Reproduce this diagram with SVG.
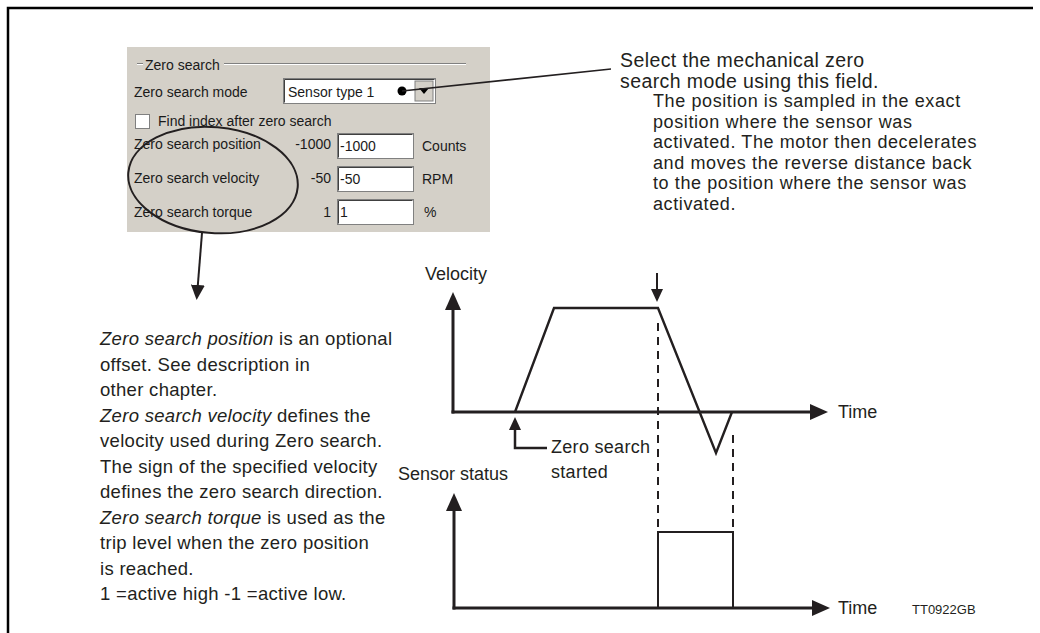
<svg xmlns="http://www.w3.org/2000/svg" width="1040" height="633" viewBox="0 0 1040 633">
<style>
.t{font-family:"Liberation Sans",Arial,sans-serif;fill:#231f20}
.g{font-family:"Liberation Sans",Arial,sans-serif;font-size:14px;fill:#1a1a1a}
.ln{stroke:#231f20;fill:none}
.dash{stroke:#231f20;stroke-width:2;stroke-dasharray:8 6;fill:none}
.sunk{fill:#fff;stroke:#808080;stroke-width:1}
</style>
<defs>
<marker id="big" viewBox="0 0 18 16" refX="4" refY="8" markerWidth="18" markerHeight="16" markerUnits="userSpaceOnUse" orient="auto"><path d="M0,0 L18,8 L0,16 Z" fill="#231f20"/></marker>
<marker id="sm" viewBox="0 0 13 12" refX="3" refY="6" markerWidth="13" markerHeight="12" markerUnits="userSpaceOnUse" orient="auto"><path d="M0,0 L13,6 L0,12 Z" fill="#231f20"/></marker>
<marker id="md" viewBox="0 0 15 14" refX="3" refY="7" markerWidth="15" markerHeight="14" markerUnits="userSpaceOnUse" orient="auto"><path d="M0,0 L15,7 L0,14 Z" fill="#231f20"/></marker>
</defs>
<rect width="1040" height="633" fill="#fff"/>
<!-- frame -->
<path d="M8,633 V8 H1033" stroke="#000" stroke-width="2.5" fill="none"/>

<!-- GUI panel -->
<g id="panel">
<rect x="127" y="47" width="363" height="185" fill="#d4d0c8"/>
<path d="M137,63.5 H143 M224,63.5 H466" stroke="#808080" stroke-width="1"/>
<path d="M137,64.5 H143 M224,64.5 H466" stroke="#fff" stroke-width="1"/>
<text class="g" x="145" y="70">Zero search</text>
<text class="g" x="134" y="97">Zero search mode</text>
<rect x="283.5" y="78.5" width="152" height="25" fill="#fff" stroke="#808080"/>
<path d="M284.5,102.5 V79.5 H434.5" stroke="#404040" fill="none"/>
<rect x="415" y="81" width="18" height="20" fill="#d4d0c8" stroke="#808080"/>
<path d="M419,88 L429,88 L424,94 Z" fill="#000"/>
<text class="g" x="288" y="97">Sensor type 1</text>
<rect x="135.5" y="114.5" width="14" height="14" class="sunk"/>
<text class="g" x="158" y="126">Find index after zero search</text>
<text class="g" x="134" y="149">Zero search position</text>
<text class="g" x="331" y="149" text-anchor="end">-1000</text>
<rect x="337.5" y="133.5" width="76" height="25" class="sunk"/>
<path d="M338.5,157.5 V134.5 H412.5" stroke="#404040" fill="none"/>
<text class="g" x="340" y="151">-1000</text>
<text class="g" x="422" y="151">Counts</text>
<text class="g" x="134" y="183">Zero search velocity</text>
<text class="g" x="331" y="183" text-anchor="end">-50</text>
<rect x="337.5" y="166.5" width="76" height="25" class="sunk"/>
<path d="M338.5,190.5 V167.5 H412.5" stroke="#404040" fill="none"/>
<text class="g" x="340" y="184">-50</text>
<text class="g" x="422" y="184">RPM</text>
<text class="g" x="134" y="217">Zero search torque</text>
<text class="g" x="331" y="217" text-anchor="end">1</text>
<rect x="337.5" y="199.5" width="76" height="25" class="sunk"/>
<path d="M338.5,223.5 V200.5 H412.5" stroke="#404040" fill="none"/>
<text class="g" x="340" y="217">1</text>
<text class="g" x="424" y="217">%</text>
</g>

<!-- annotations -->
<g id="connectors">
<ellipse cx="213" cy="180" rx="85" ry="53" transform="rotate(5 213 180)" class="ln" stroke-width="2"/>
<line x1="202" y1="233" x2="197.6" y2="288" class="ln" stroke-width="2" marker-end="url(#md)"/>
<circle cx="402" cy="91" r="4.5" fill="#000"/>
<line x1="402" y1="91" x2="611" y2="69" class="ln" stroke-width="1.6"/>
<line x1="657" y1="273" x2="657" y2="292" class="ln" stroke-width="2" marker-end="url(#sm)"/>
<path d="M547,448 H515 V427" class="ln" stroke-width="2.5" marker-end="url(#sm)"/>
<line x1="658" y1="323" x2="658" y2="532" class="dash"/>
<line x1="733" y1="435" x2="733" y2="532" class="dash"/>
</g>

<g id="velocity-chart">
<line x1="453" y1="413.5" x2="453" y2="306" class="ln" stroke-width="3" marker-end="url(#big)"/>
<line x1="451.5" y1="412" x2="814" y2="412" class="ln" stroke-width="3" marker-end="url(#big)"/>
<polyline points="515,412 554,308 658,308 716,453 732,412" class="ln" stroke-width="2.4"/>
<text class="t" x="425" y="280" font-size="18">Velocity</text>
<text class="t" x="838" y="418" font-size="18">Time</text>
<text class="t" x="551" y="453" font-size="18" letter-spacing="0.3">Zero search</text>
<text class="t" x="551" y="478" font-size="18" letter-spacing="0.3">started</text>
</g>

<g id="sensor-chart">
<line x1="454" y1="609.5" x2="454" y2="507" class="ln" stroke-width="3" marker-end="url(#big)"/>
<line x1="452.5" y1="608" x2="816" y2="608" class="ln" stroke-width="3" marker-end="url(#big)"/>
<path d="M658,608 V532 H733 V608" class="ln" stroke-width="2"/>
<text class="t" x="398" y="480" font-size="18">Sensor status</text>
<text class="t" x="838" y="614" font-size="18">Time</text>
<text class="t" x="912" y="614" font-size="13">TT0922GB</text>
</g>

<g id="select-note" class="t" font-size="19.5" letter-spacing="0.4">
<text x="620" y="67">Select the mechanical zero</text>
<text x="620" y="87.5">search mode using this field.</text>
</g>

<g id="position-note" class="t" font-size="18" letter-spacing="0.6">
<text x="653" y="107">The position is sampled in the exact</text>
<text x="653" y="127.5">position where the sensor was</text>
<text x="653" y="148">activated. The motor then decelerates</text>
<text x="653" y="168.5">and moves the reverse distance back</text>
<text x="653" y="189">to the position where the sensor was</text>
<text x="653" y="209.5">activated.</text>
</g>

<g id="description" class="t" font-size="18.5" letter-spacing="0.3">
<text x="100" y="345"><tspan font-style="italic">Zero search position</tspan> is an optional</text>
<text x="100" y="370.5">offset. See description in</text>
<text x="100" y="396">other chapter.</text>
<text x="100" y="421.5"><tspan font-style="italic">Zero search velocity</tspan> defines the</text>
<text x="100" y="447">velocity used during Zero search.</text>
<text x="100" y="472.5">The sign of the specified velocity</text>
<text x="100" y="498">defines the zero search direction.</text>
<text x="100" y="523.5"><tspan font-style="italic">Zero search torque</tspan> is used as the</text>
<text x="100" y="549">trip level when the zero position</text>
<text x="100" y="574.5">is reached.</text>
<text x="100" y="600">1 =active high -1 =active low.</text>
</g>
</svg>
